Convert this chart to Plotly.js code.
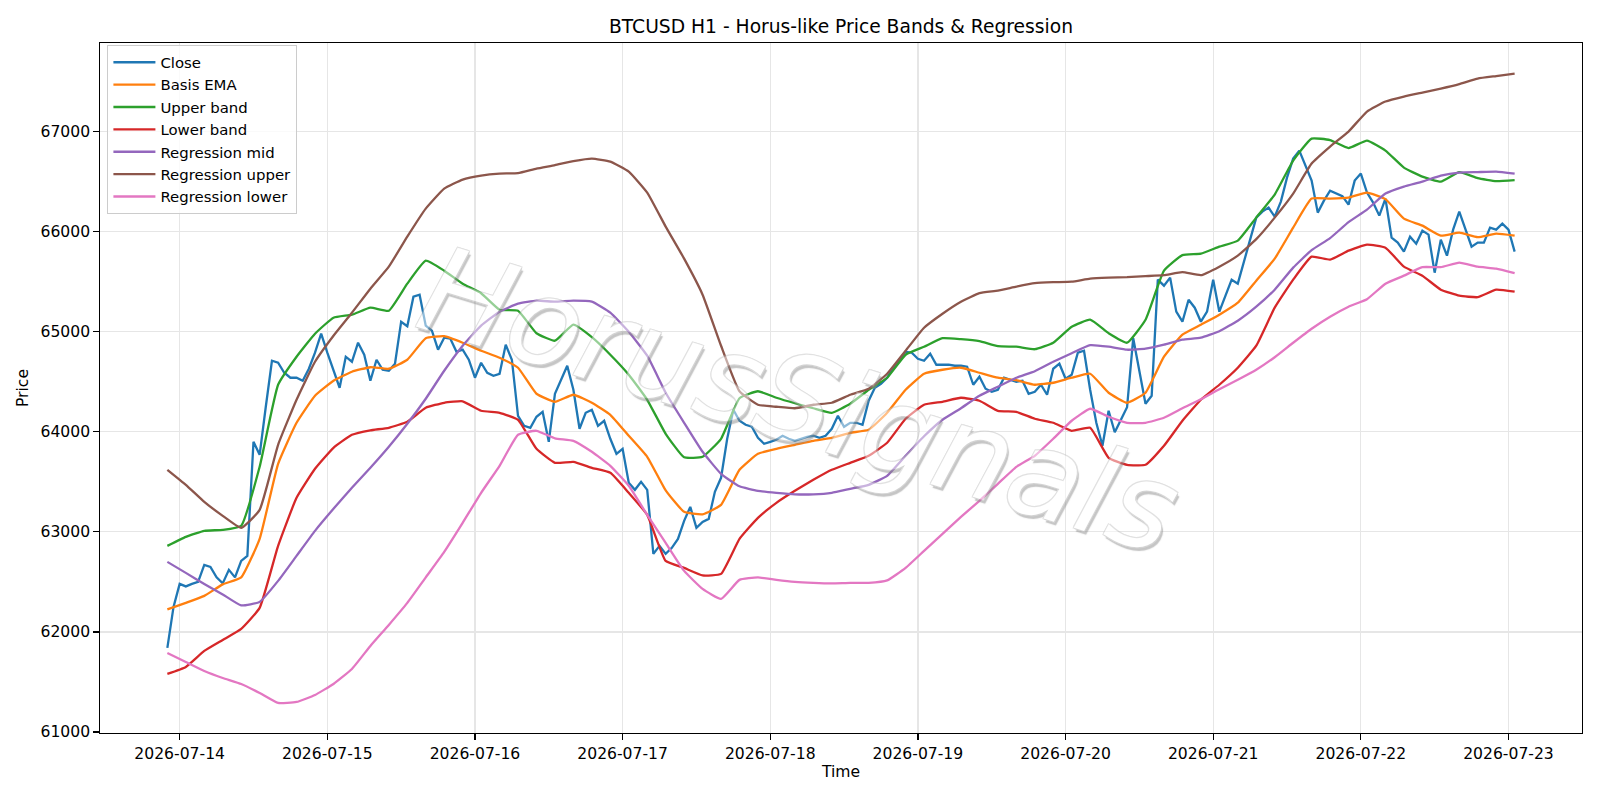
<!DOCTYPE html>
<html>
<head>
<meta charset="utf-8">
<script src="https://cdn.plot.ly/plotly-3.0.1.min.js"></script>
<style>
  html, body { margin: 0; padding: 0; background: #ffffff; }
  #chart { width: 1600px; height: 800px; }
</style>
</head>
<body>
<div id="chart"></div>
<script>
// Hourly BTCUSD closes, first bar at 2026-07-13 22:00
const seriesStart = Date.UTC(2026, 6, 13, 22, 0, 0);
const HOUR = 3600 * 1000;

const closePrices = [
  61840, 62250, 62480, 62455, 62480, 62500, 62670, 62650, 62545, 62485,
  62620, 62545, 62710, 62760, 63900, 63770, 64250, 64710, 64690, 64590,
  64540, 64540, 64510, 64630, 64790, 64980, 64790, 64620, 64440, 64750,
  64700, 64890, 64770, 64510, 64720, 64620, 64610, 64680, 65100, 65055,
  65350, 65370, 65060, 65010, 64820, 64940, 64930, 64800, 64820, 64720,
  64540, 64690, 64590, 64560, 64580, 64870, 64720, 64160, 64060, 64040,
  64150, 64200, 63900, 64380, 64520, 64660, 64420, 64030, 64190, 64220,
  64060, 64110, 63930, 63780, 63830, 63490, 63420, 63500, 63420, 62780,
  62860, 62780, 62840, 62930, 63110, 63250, 63040, 63100, 63130, 63400,
  63540, 63930, 64220, 64110, 64070, 64050, 63940, 63880, 63900, 63920,
  63960, 63930, 63910, 63930, 63950, 63960, 63940, 63960, 64030, 64160,
  64050, 64090, 64090, 64070, 64310, 64440, 64480, 64540, 64640, 64720,
  64800, 64790, 64730, 64710, 64780, 64670, 64670, 64670, 64660, 64660,
  64650, 64470, 64550, 64430, 64400, 64420, 64540, 64520, 64500, 64510,
  64380, 64400, 64470, 64370, 64630, 64680, 64530, 64570, 64790, 64810,
  64420, 64090, 63860, 64210, 63995, 64120, 64245, 64935, 64610, 64280,
  64360, 65520, 65460, 65540, 65200, 65100, 65320, 65240, 65100, 65200,
  65520, 65200, 65360, 65520, 65480, 65700, 65900, 66140, 66200, 66240,
  66150, 66300, 66540, 66730, 66810, 66650, 66510, 66190, 66310, 66410,
  66380, 66355, 66270, 66510, 66580, 66390, 66290, 66160, 66330, 65940,
  65890, 65800, 65950, 65880, 66010, 65970, 65590, 65920, 65760, 66020,
  66200, 66020, 65850, 65890, 65890, 66040, 66020, 66080, 66020, 65800
];

// Band and regression values, one reading every 3 hours from the same start
const BAND_STEP_HOURS = 3;

const basisEma = [
  62225, 62290, 62360, 62475, 62545, 62930, 63680, 64090, 64360, 64510, 64600,
  64645, 64630, 64720, 64935, 64955, 64890, 64810, 64740, 64640, 64380, 64300, 64370, 64290, 64170,
  63960, 63750, 63415, 63200, 63175, 63270, 63620, 63780, 63830, 63870, 63910, 63940, 63990,
  64020, 64190, 64420, 64580, 64620, 64640, 64590, 64540, 64515, 64470, 64490, 64540, 64580, 64390,
  64290, 64390, 64750, 64970, 65070, 65170, 65290, 65510, 65730, 66040, 66330, 66330, 66340,
  66390, 66325, 66130, 66060, 65960, 65990, 65945, 65980, 65960
];

const upperBand = [
  62860, 62950, 63010, 63020, 63060, 63650, 64470, 64750, 64980, 65140, 65170,
  65240, 65210, 65480, 65710, 65610, 65480, 65385, 65220, 65210, 64985, 64910, 65070, 64945, 64770,
  64570, 64320, 63980, 63745, 63750, 63930, 64335, 64405, 64340, 64285, 64235, 64190, 64280,
  64420, 64540, 64770, 64850, 64935, 64925, 64905, 64855, 64850, 64825, 64890, 65050, 65120, 64985,
  64890, 65120, 65610, 65765, 65780, 65850, 65910, 66140, 66370, 66710, 66930, 66915, 66835,
  66910, 66810, 66640, 66550, 66500, 66595, 66535, 66505, 66515
];

const lowerBand = [
  61580, 61650, 61810, 61920, 62030, 62240, 62860, 63340, 63630, 63840, 63970,
  64015, 64040, 64100, 64240, 64290, 64305, 64210, 64190, 64120, 63830, 63690, 63700, 63640, 63590,
  63390, 63170, 62710, 62640, 62565, 62580, 62930, 63140, 63290, 63410, 63520, 63620, 63690,
  63760, 63890, 64130, 64270, 64300, 64340, 64310, 64210, 64200, 64130, 64090, 64010, 64040, 63740,
  63670, 63670, 63860, 64110, 64320, 64470, 64640, 64860, 65240, 65520, 65750, 65720, 65810,
  65870, 65840, 65650, 65560, 65420, 65360, 65345, 65420, 65400
];

const regressionMid = [
  62700, 62590, 62480, 62375, 62265, 62300, 62510, 62760, 63010, 63230, 63440,
  63640, 63850, 64080, 64330, 64610, 64860, 65060, 65200, 65280, 65310, 65300, 65310, 65300, 65190,
  65000, 64760, 64390, 64090, 63800, 63580, 63455, 63410, 63390, 63375, 63375, 63390, 63430,
  63470, 63560, 63760, 63955, 64120, 64235, 64360, 64450, 64540, 64605, 64700, 64785, 64865, 64850,
  64820, 64830, 64870, 64920, 64940, 65005, 65110, 65250, 65420, 65640, 65815, 65935, 66095,
  66220, 66380, 66450, 66500, 66560, 66590, 66595, 66600, 66580
];

const regressionUpper = [
  63620, 63470, 63300, 63160, 63040, 63220, 63870, 64320, 64700, 64960, 65190,
  65430, 65650, 65950, 66230, 66430, 66520, 66560, 66580, 66585, 66630, 66665, 66705, 66730, 66700,
  66600, 66390, 66050, 65730, 65370, 64860, 64405, 64270, 64250, 64235, 64270, 64290, 64370,
  64430, 64580, 64810, 65040, 65180, 65300, 65385, 65410, 65450, 65485, 65495, 65500, 65530, 65540,
  65545, 65555, 65565, 65595, 65565, 65650, 65760, 65925, 66140, 66380, 66680, 66850, 67000,
  67200, 67300, 67350, 67390, 67430, 67475, 67530, 67555, 67580
];

const regressionLower = [
  61790, 61700, 61610, 61540, 61480, 61390, 61290, 61300, 61370, 61480, 61630,
  61860, 62070, 62290, 62545, 62800, 63090, 63390, 63660, 63970, 64010, 63935, 63910, 63800, 63660,
  63460, 63170, 62890, 62610, 62430, 62330, 62520, 62545, 62520, 62500, 62490, 62485, 62490,
  62490, 62515, 62640, 62810, 62980, 63150, 63310, 63480, 63650, 63760, 63930, 64110, 64230, 64150,
  64090, 64090, 64140, 64235, 64325, 64425, 64520, 64620, 64745, 64890, 65030, 65150, 65250,
  65325, 65480, 65560, 65645, 65645, 65690, 65650, 65630, 65585
];

const seriesNames = ['Close', 'Basis EMA', 'Upper band', 'Lower band',
                     'Regression mid', 'Regression upper', 'Regression lower'];
const seriesColors = ['#1f77b4', '#ff7f0e', '#2ca02c', '#d62728',
                      '#9467bd', '#8c564b', '#e377c2'];

const closeTimes = closePrices.map((_, i) => seriesStart + i * HOUR);
const bandTimes = basisEma.map((_, i) => seriesStart + i * BAND_STEP_HOURS * HOUR);

const bandSeries = [basisEma, upperBand, lowerBand, regressionMid, regressionUpper, regressionLower];

const traces = [{
  type: 'scatter', mode: 'lines', name: seriesNames[0],
  x: closeTimes, y: closePrices,
  line: { color: seriesColors[0], width: 2.3 }
}];
bandSeries.forEach((vals, k) => {
  traces.push({
    type: 'scatter', mode: 'lines', name: seriesNames[k + 1],
    x: bandTimes, y: vals,
    line: { color: seriesColors[k + 1], width: 2.3, shape: 'spline', smoothing: 0.4 }
  });
});

const FONT = 'DejaVu Sans, Liberation Sans, sans-serif';

const axisCommon = {
  showline: true, linecolor: '#000000', linewidth: 1.3, mirror: true,
  ticks: 'outside', ticklen: 5.5, tickwidth: 1.3, tickcolor: '#000000',
  showgrid: true, gridcolor: '#e6e6e6', gridwidth: 1.2,
  zeroline: false,
  tickfont: { family: FONT, size: 15.6, color: '#000000' }
};

const layout = {
  width: 1600, height: 800,
  paper_bgcolor: '#ffffff', plot_bgcolor: '#ffffff',
  margin: { l: 100, r: 18, t: 43, b: 67, pad: 0 },
  font: { family: FONT, size: 15.6, color: '#000000' },
  title: {
    text: 'BTCUSD H1 - Horus-like Price Bands & Regression',
    font: { family: FONT, size: 18.7, color: '#000000' },
    x: 0.5, xref: 'paper', xanchor: 'center',
    y: 1 - 26 / 800, yref: 'container', yanchor: 'middle'
  },
  xaxis: Object.assign({}, axisCommon, {
    type: 'date',
    range: ['2026-07-13 11:03', '2026-07-23 11:57'],
    tick0: '2026-07-14', dtick: 86400000,
    tickformat: '%Y-%m-%d',
    title: { text: 'Time', font: { family: FONT, size: 15.6, color: '#000000' }, standoff: 4 }
  }),
  yaxis: Object.assign({}, axisCommon, {
    range: [60990, 67885],
    tick0: 0, dtick: 1000, tickformat: 'd',
    title: { text: 'Price', font: { family: FONT, size: 15.6, color: '#000000' }, standoff: 8 }
  }),
  showlegend: true,
  legend: {
    x: 0.005, y: 0.997, xanchor: 'left', yanchor: 'top',
    bgcolor: 'rgba(255,255,255,0.8)', bordercolor: '#cccccc', borderwidth: 1,
    font: { family: FONT, size: 14.9, color: '#000000' },
    itemwidth: 42, tracegroupgap: 0
  },
  annotations: [{
    text: 'HorusSignals',
    xref: 'paper', yref: 'paper', x: 0.4723, y: 0.4826,
    xanchor: 'center', yanchor: 'middle', showarrow: false,
    textangle: 17,
    opacity: 0.5,
    font: {
      family: FONT, size: 120, color: '#ffffff', style: 'italic',
      shadow: '1px 1px 0 #a8a8a8, -1px -1px 0 #c4c4c4, 1px -1px 0 #c4c4c4, -1px 1px 0 #c4c4c4, 3px 3px 1px #8c8c8c'
    }
  }]
};

Plotly.newPlot('chart', traces, layout, { displayModeBar: false, staticPlot: true });
</script>
</body>
</html>
